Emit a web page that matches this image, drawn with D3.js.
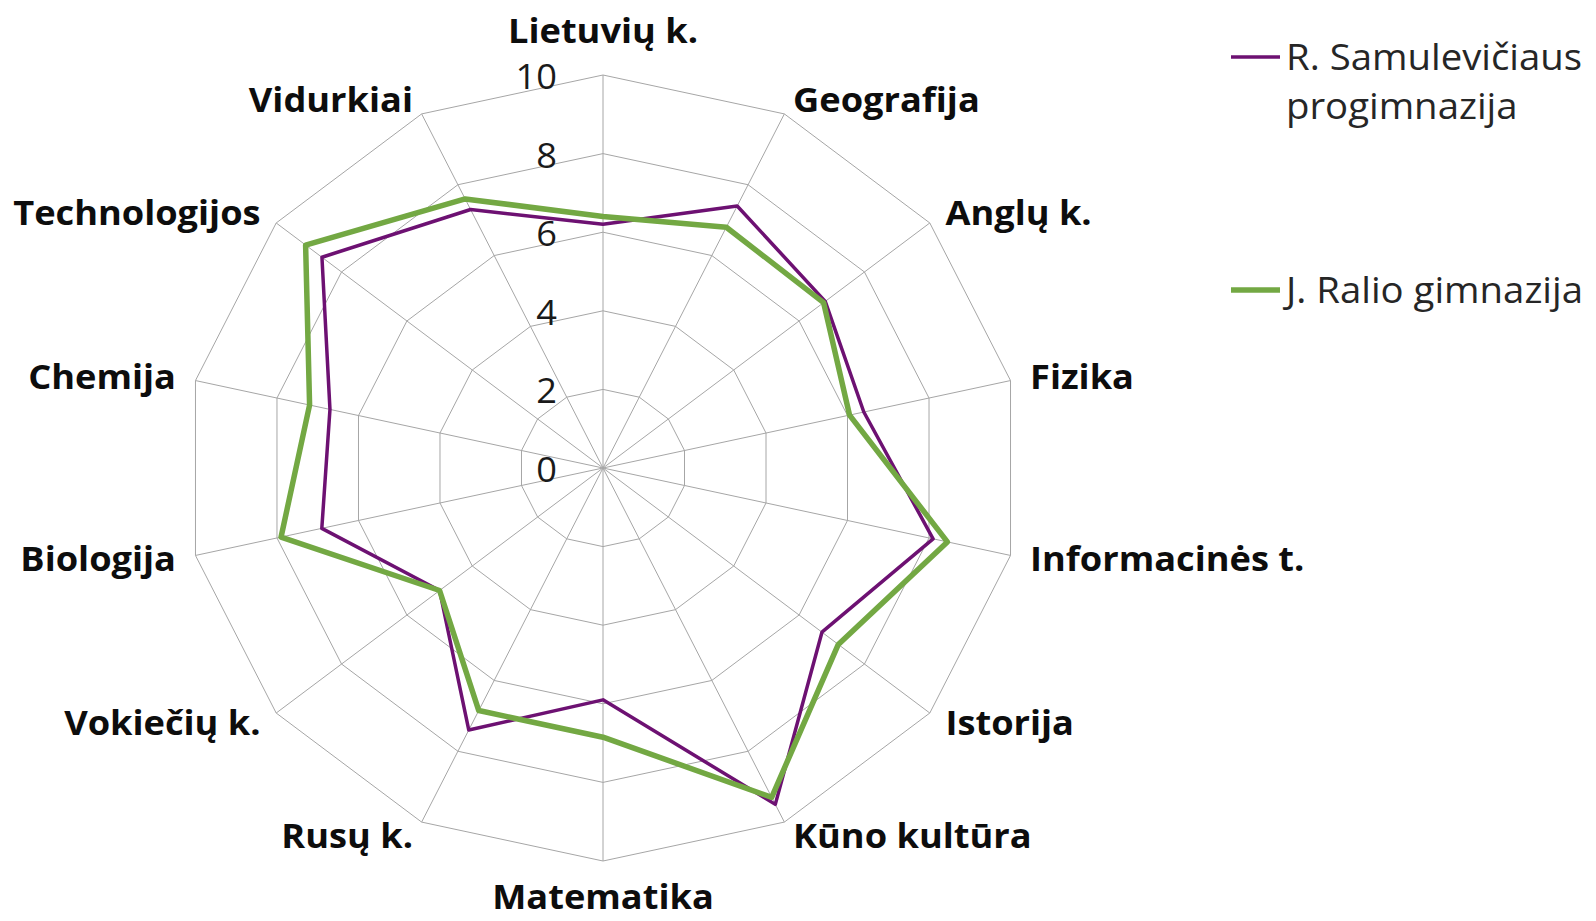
<!DOCTYPE html>
<html>
<head>
<meta charset="utf-8">
<script src="https://cdn.jsdelivr.net/npm/d3@7"></script>
<style>
  html, body { margin: 0; padding: 0; background: #fff; }
  #canvas { width: 1596px; height: 921px; }
</style>
</head>
<body>
<div id="canvas"></div>
<script>
const width = 1596, height = 921;

// subjects, clockwise from the top
const subjects = ["Lietuvių k.", "Geografija", "Anglų k.", "Fizika", "Informacinės t.", "Istorija",
  "Kūno kultūra", "Matematika", "Rusų k.", "Vokiečių k.", "Biologija", "Chemija", "Technologijos", "Vidurkiai"];

const samulevicius = [6.2, 7.4, 6.8, 6.4, 8.1, 6.7, 9.5, 5.9, 7.4, 5.0, 6.9, 6.7, 8.6, 7.3];
const ralio        = [6.4, 6.8, 6.75, 6.05, 8.45, 7.2, 9.3, 6.85, 6.85, 5.0, 7.9, 7.2, 9.1, 7.6];

const ticks = [0, 2, 4, 6, 8, 10];
const seriesNames = [["R. Samulevičiaus", "progimnazija"], ["J. Ralio gimnazija"]];

const series = [
  { values: samulevicius, color: "#6d1172", width: 3.5 },
  { values: ralio, color: "#73a843", width: 5.5 }
];

const cx = 603, cy = 468;
// the picture is stretched a little horizontally, text too
const stretch = 1.065;
const rx = d3.scaleLinear().domain([0, 10]).range([0, 418]);
const ry = d3.scaleLinear().domain([0, 10]).range([0, 393]);
const angle = d3.scaleLinear().domain([0, subjects.length]).range([0, 2 * Math.PI]);

function pt(i, v) {
  const a = angle(i);
  return [cx + rx(v) * Math.sin(a), cy - ry(v) * Math.cos(a)];
}

function place(x, y) {
  return `translate(${x},${y}) scale(${stretch},1)`;
}

const svg = d3.select("#canvas")
  .append("svg")
    .attr("width", width)
    .attr("height", height)
    .style("font-family", "'Open Sans', sans-serif");

// rings
svg.append("g")
  .selectAll("path")
  .data(ticks.filter(t => t > 0))
  .enter().append("path")
    .attr("d", t => d3.line()(subjects.map((s, i) => pt(i, t))) + "Z")
    .style("fill", "none")
    .style("stroke", "#a6a6a6")
    .style("stroke-width", 1);

// spokes
svg.append("g")
  .selectAll("line")
  .data(subjects)
  .enter().append("line")
    .attr("x1", cx).attr("y1", cy)
    .attr("x2", (d, i) => pt(i, 10)[0])
    .attr("y2", (d, i) => pt(i, 10)[1])
    .style("stroke", "#a6a6a6")
    .style("stroke-width", 1);

// tick labels
svg.append("g")
  .selectAll("text")
  .data(ticks)
  .enter().append("text")
    .attr("transform", t => place(cx - 46, cy - ry(t) + 14))
    .attr("text-anchor", "end")
    .style("font-size", "34px")
    .style("fill", "#1a1a1a")
    .text(t => t);

// series
const line = d3.line().curve(d3.curveLinearClosed);
svg.append("g")
  .selectAll("path")
  .data(series)
  .enter().append("path")
    .attr("d", s => line(s.values.map((v, i) => pt(i, v))))
    .style("fill", "none")
    .style("stroke", s => s.color)
    .style("stroke-width", s => s.width)
    .style("stroke-linejoin", "round");

// category labels
svg.append("g")
  .selectAll("text")
  .data(subjects)
  .enter().append("text")
    .each(function(d, i) {
      const a = angle(i);
      const s = Math.sin(a), c = Math.cos(a);
      const [vx, vy] = pt(i, 10);
      let x = vx, y, anchor = "middle";
      if (Math.abs(s) < 0.01) {
        y = c > 0 ? vy - 32 : vy + 48;
      } else {
        x = vx + 20 * s;
        y = vy + 12 - 16 * c;
        anchor = s > 0 ? "start" : "end";
      }
      d3.select(this)
        .attr("transform", place(x, y))
        .attr("text-anchor", anchor);
    })
    .style("font-size", "34px")
    .style("font-weight", "bold")
    .style("fill", "#0d0d0d")
    .text(d => d);

// legend
const legend = svg.append("g");
const legendY = [57, 290];
series.forEach((s, k) => {
  legend.append("line")
    .attr("x1", 1231).attr("x2", 1280)
    .attr("y1", legendY[k]).attr("y2", legendY[k])
    .style("stroke", s.color)
    .style("stroke-width", s.width);
  const t = legend.append("text")
    .attr("transform", place(1286, legendY[k] + 13))
    .style("font-size", "36px")
    .style("fill", "#262626");
  seriesNames[k].forEach((name, j) => {
    t.append("tspan")
      .attr("x", 0)
      .attr("dy", j === 0 ? 0 : 49)
      .text(name);
  });
});
</script>
</body>
</html>
